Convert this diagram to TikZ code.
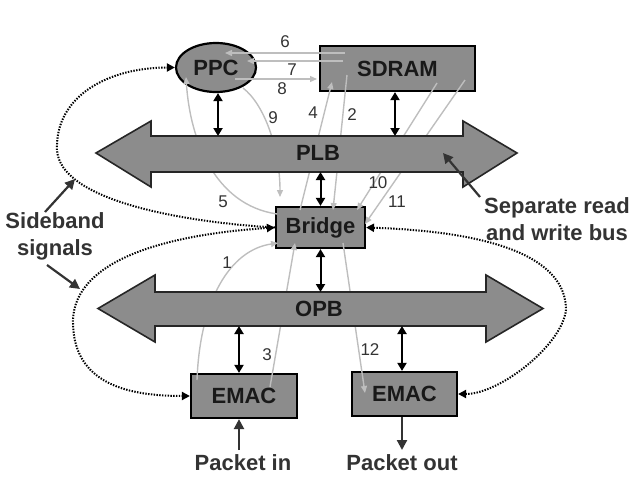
\documentclass[tikz,border=0pt]{standalone}
\usepackage{fontspec}
\setmainfont{Liberation Sans}
\usetikzlibrary{arrows.meta,shapes.geometric}
\definecolor{boxfill}{HTML}{8C8C8C}
\definecolor{lightln}{HTML}{BEBEBE}
\definecolor{txt}{HTML}{333333}
\begin{document}
\begin{tikzpicture}[x=1pt,y=-1pt,
  box/.style={draw=black,line width=2.2pt,fill=boxfill,inner sep=0pt,font=\fontsize{22}{24}\selectfont\bfseries,text=black!90},
  bus/.style={draw=black!85,line width=1.6pt,fill=boxfill,line join=miter},
  dbl/.style={line width=2pt,{Triangle[width=9pt,length=8pt]}-{Triangle[width=9pt,length=8pt]}},
  gl/.style={draw=lightln,line width=1.4pt,-{Triangle[width=6pt,length=7pt]}},
  side/.style={line width=2pt,dash pattern=on 1.4pt off 1.4pt,-{Triangle[width=8pt,length=8pt]}},
  sideb/.style={line width=2pt,dash pattern=on 1.4pt off 1.4pt,{Triangle[width=8pt,length=8pt]}-{Triangle[width=8pt,length=8pt]}},
  lbl/.style={font=\fontsize{22}{27}\selectfont\bfseries,text=txt,align=center},
  num/.style={font=\fontsize{17}{19}\selectfont,text=txt},
  pointer/.style={draw=txt,line width=2.2pt,-{Triangle[width=10pt,length=10pt]}}
]
\useasboundingbox (0,0) rectangle (633,479);

% boxes
\node[box,ellipse,minimum width=80pt,minimum height=49pt] (ppc) at (216,67.5) {PPC};
\node[box,rectangle,minimum width=155pt,minimum height=45pt] (sdram) at (397.5,68.5) {SDRAM};
\node[box,rectangle,minimum width=89pt,minimum height=41pt] (bridge) at (320.5,227.5) {Bridge};
\node[box,rectangle,minimum width=106pt,minimum height=44pt] (emacA) at (244,396) {EMAC};
\node[box,rectangle,minimum width=105pt,minimum height=44pt] (emacB) at (404.5,394) {EMAC};

% gray data-flow lines
\draw[gl] (345,53) coordinate (s6) -- (225,53) coordinate (p6);
\draw[gl] (343,61) coordinate (s7) -- (247,61) coordinate (p7);
\draw[gl] (235,79) coordinate (p8) -- (317,79) coordinate (s8);
\draw[gl] (243,88) coordinate (p9) .. controls (265,105) and (280,150) .. (280,197) coordinate (b9);
\draw[gl] (277,214) coordinate (b5) .. controls (215,205) and (190,140) .. (186,77) coordinate (p5);
\draw[gl] (300,210) coordinate (b4) -- (332,82) coordinate (s4);
\draw[gl] (347,75) coordinate (s2) -- (333,210) coordinate (b2);
\draw[gl] (437,83) coordinate (s10) -- (357,210) coordinate (b10);
\draw[gl] (465,80) coordinate (s11) -- (365,224) coordinate (b11);
\draw[gl] (197,380) coordinate (e1) .. controls (200,300) and (230,250) .. (278,243) coordinate (b1);
\draw[gl] (270,387) coordinate (e3) -- (295,243) coordinate (b3);
\draw[gl] (343,243) coordinate (b12) -- (365,393) coordinate (e12);

% buses
\draw[bus] (96,153) -- (151,121) -- (151,136) -- (463,136) -- (463,121) -- (517,153)
  -- (463,187) -- (463,172) -- (151,172) -- (151,187) -- cycle;
\node[font=\fontsize{22}{24}\selectfont\bfseries,text=black!90] (plb) at (318,153) {PLB};
\draw[bus] (98,308.5) -- (155,275) -- (155,292) -- (486,292) -- (486,275) -- (543,308.5)
  -- (486,342) -- (486,326) -- (155,326) -- (155,342) -- cycle;
\node[font=\fontsize{22}{24}\selectfont\bfseries,text=black!90] (opb) at (319,309) {OPB};

\coordinate (plbT) at (0,136);
\coordinate (plbB) at (0,172);
\coordinate (opbT) at (0,292);
\coordinate (opbB) at (0,326);

% bus connections
\draw[dbl] ([xshift=2pt]ppc.south) -- ([xshift=2pt]ppc.south |- plbT);
\draw[dbl] ([xshift=-2.5pt]sdram.south) -- ([xshift=-2.5pt]sdram.south |- plbT);
\draw[dbl] (bridge.north) -- (bridge.north |- plbB);
\draw[dbl] (bridge.south) -- (bridge.south |- opbT);
\draw[dbl] ([xshift=-5pt]emacA.north) -- ([xshift=-5pt]emacA.north |- opbB);
\draw[dbl] ([xshift=-2.5pt]emacB.north) -- ([xshift=-2.5pt]emacB.north |- opbB);

% sideband signals
\draw[side] (bridge.west) .. controls (180,222) and (60,200) .. (57,150)
  .. controls (55,95) and (110,67.5) .. (ppc.west);
\draw[sideb] (bridge.west) .. controls (160,235) and (75,262) .. (73,320)
  .. controls (72,385) and (130,396) .. (emacA.west);
\draw[sideb] (bridge.east) .. controls (500,232) and (566,260) .. (566,310)
  .. controls (562,345) and (500,394) .. (emacB.east);

% numbers
\node[num] (n6) at (285,42) {6};
\node[num] (n7) at (292,70) {7};
\node[num] (n8) at (282,89) {8};
\node[num] (n9) at (273,118) {9};
\node[num] (n4) at (313,113) {4};
\node[num] (n2) at (352,115) {2};
\node[num] (n5) at (223,202) {5};
\node[num] (n10) at (378,183) {10};
\node[num] (n11) at (397,202) {11};
\node[num] (n1) at (227,263) {1};
\node[num] (n3) at (267,355) {3};
\node[num] (n12) at (370,350) {12};

% labels
\node[lbl] (side) at (55,236.5) {Sideband\\signals};
\draw[pointer] (45,212) -- (75,179);
\draw[pointer] (47,265) -- (80,289);
\node[lbl] (sep) at (557,219) {Separate read\\and write bus};
\draw[pointer] (480,197) -- (443,153);

\node[lbl] (pin) at (243,463) {Packet in};
\node[lbl] (pout) at (402,463) {Packet out};
\draw[pointer] ([xshift=-5pt]emacA.south |- 0,450) -- ([xshift=-5pt]emacA.south);
\draw[pointer] ([xshift=-2.5pt]emacB.south) -- ([xshift=-2.5pt]emacB.south |- 0,450);
\end{tikzpicture}
\end{document}
